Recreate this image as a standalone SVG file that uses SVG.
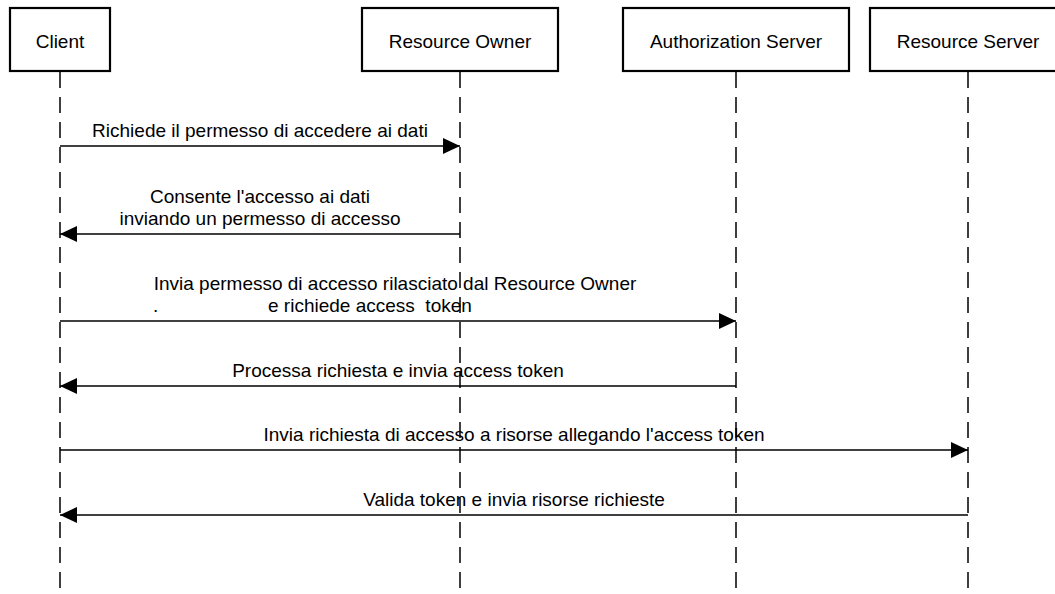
<svg xmlns="http://www.w3.org/2000/svg" width="1055" height="594" viewBox="0 0 1055 594">
<style>
  .box { fill: #ffffff; stroke: #000000; stroke-width: 2.2; }
  .life { stroke: #000000; stroke-width: 1.5; stroke-dasharray: 16 9; fill: none; }
  .msg { stroke: #000000; stroke-width: 1.5; fill: none; }
  text { font-family: "Liberation Sans", Arial, Helvetica, sans-serif; font-size: 19px; fill: #000000; white-space: pre; }
  .c { text-anchor: middle; }
</style>
<defs>
  <marker id="arr" viewBox="0 0 17 16" refX="17" refY="8" markerWidth="17" markerHeight="16" markerUnits="userSpaceOnUse" orient="auto">
    <path d="M0,0 L17,8 L0,16 Z" fill="#000000"/>
  </marker>
</defs>
<rect width="1055" height="594" fill="#ffffff"/>
<g id="lifelines">
  <line class="life" x1="60" y1="72" x2="60" y2="594"/>
  <line class="life" x1="460" y1="72" x2="460" y2="594"/>
  <line class="life" x1="736" y1="72" x2="736" y2="594"/>
  <line class="life" x1="968" y1="72" x2="968" y2="594"/>
</g>
<g id="node-client">
  <rect class="box" x="10" y="8" width="100" height="63"/>
  <text class="c" x="60" y="47.5">Client</text>
</g>
<g id="node-resource-owner">
  <rect class="box" x="362" y="8" width="196" height="63"/>
  <text class="c" x="460" y="47.5">Resource Owner</text>
</g>
<g id="node-authorization-server">
  <rect class="box" x="623" y="8" width="226" height="63"/>
  <text class="c" x="736" y="47.5">Authorization Server</text>
</g>
<g id="node-resource-server">
  <rect class="box" x="870" y="8" width="196" height="63"/>
  <text class="c" x="968" y="47.5">Resource Server</text>
</g>
<g id="connectors">
  <line class="msg" x1="60" y1="146" x2="460" y2="146" marker-end="url(#arr)"/>
  <text class="c" x="260" y="137">Richiede il permesso di accedere ai dati</text>

  <line class="msg" x1="460" y1="234" x2="60" y2="234" marker-end="url(#arr)"/>
  <text class="c" x="260" y="203">Consente l'accesso ai dati</text>
  <text class="c" x="260" y="225">inviando un permesso di accesso</text>

  <line class="msg" x1="60" y1="321" x2="736" y2="321" marker-end="url(#arr)"/>
  <text class="c" x="395" y="290">Invia permesso di accesso rilasciato dal Resource Owner</text>
  <text y="312"><tspan x="153">.</tspan><tspan x="268">e richiede access  token</tspan></text>

  <line class="msg" x1="736" y1="386" x2="60" y2="386" marker-end="url(#arr)"/>
  <text class="c" x="398" y="377">Processa richiesta e invia access token</text>

  <line class="msg" x1="60" y1="450" x2="968" y2="450" marker-end="url(#arr)"/>
  <text class="c" x="514" y="441">Invia richiesta di accesso a risorse allegando l'access token</text>

  <line class="msg" x1="968" y1="515" x2="60" y2="515" marker-end="url(#arr)"/>
  <text class="c" x="514" y="506">Valida token e invia risorse richieste</text>
</g>
</svg>
